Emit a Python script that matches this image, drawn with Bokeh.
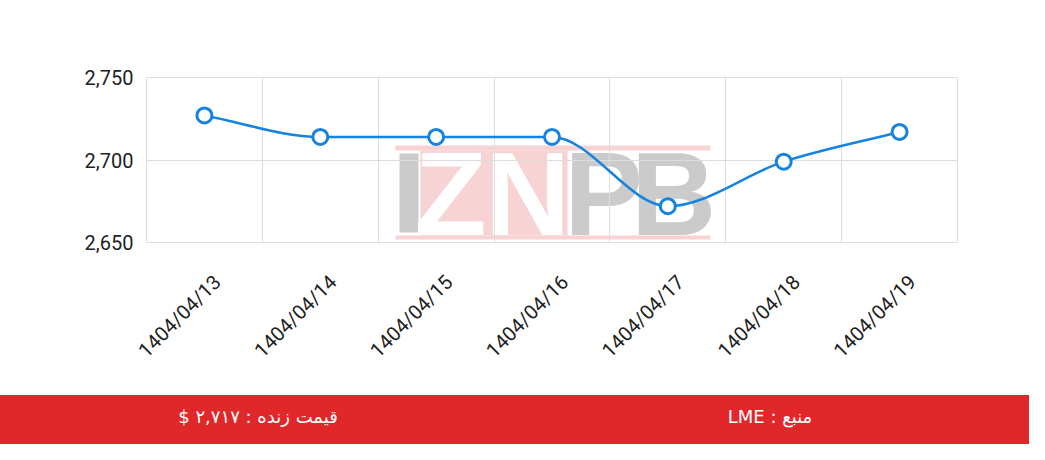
import math
import numpy as np
from bokeh.plotting import figure
from bokeh.models import Range1d, FixedTicker, NumeralTickFormatter, ColumnDataSource, Div
from bokeh.layouts import column
from bokeh.embed import file_html
from bokeh.resources import INLINE
from bokeh.core.properties import value

# ---------------- data ----------------
dates = ["1404/04/13", "1404/04/14", "1404/04/15", "1404/04/16",
         "1404/04/17", "1404/04/18", "1404/04/19"]
prices = [2727, 2714, 2714, 2714, 2672, 2699, 2717]
y_ticks = [2650, 2700, 2750]
y_min, y_max = 2650, 2750
source_name = "LME"
live_label = "قیمت زنده"
source_label = "منبع"

BLUE = "#1683df"
RED = "#e0282a"
GRID = "#dddddd"
TXT = "#222222"

n = len(dates)
xs = list(range(n))


def monotone_tangents(x, y):
    """Chart.js style monotone cubic tangents."""
    k = len(y)
    d = [(y[i + 1] - y[i]) / (x[i + 1] - x[i]) for i in range(k - 1)]
    m = [0.0] * k
    for i in range(k):
        if i == 0:
            m[i] = d[0]
        elif i == k - 1:
            m[i] = d[-1]
        elif np.sign(d[i - 1]) != np.sign(d[i]):
            m[i] = 0.0
        else:
            m[i] = (d[i - 1] + d[i]) / 2
    for i in range(k - 1):
        if d[i] == 0:
            m[i] = m[i + 1] = 0.0
            continue
        a = m[i] / d[i]
        b = m[i + 1] / d[i]
        s = a * a + b * b
        if s > 9:
            t = 3 / math.sqrt(s)
            m[i] = a * t * d[i]
            m[i + 1] = b * t * d[i]
    return m


m = monotone_tangents(xs, prices)
seg = dict(x0=[], y0=[], x1=[], y1=[], cx0=[], cy0=[], cx1=[], cy1=[])
for i in range(n - 1):
    h = (xs[i + 1] - xs[i]) / 3
    seg["x0"].append(xs[i]); seg["y0"].append(prices[i])
    seg["x1"].append(xs[i + 1]); seg["y1"].append(prices[i + 1])
    seg["cx0"].append(xs[i] + h); seg["cy0"].append(prices[i] + m[i] * h)
    seg["cx1"].append(xs[i + 1] - h); seg["cy1"].append(prices[i + 1] - m[i + 1] * h)

# ---------------- main chart ----------------
FIG_W = 1029
MAIN_H = 395
BL, BR, BT, BB = 146, 72, 77, 153

p = figure(width=FIG_W, height=MAIN_H, output_backend="svg", toolbar_location=None,
           x_range=Range1d(-0.5, n - 0.5), y_range=Range1d(y_min, y_max),
           min_border_left=BL, min_border_right=BR, min_border_top=BT, min_border_bottom=BB)
p.background_fill_color = "white"
p.border_fill_color = "white"
p.outline_line_color = GRID

# helpers: convert page-pixel layout offsets into data units (for watermark)
frame_w = FIG_W - BL - BR
frame_h = MAIN_H - BT - BB
def wx(px):
    return -0.5 + (px - (BL + 8)) * n / frame_w
def wy(py):
    return y_max - (py - (BT + 8)) * (y_max - y_min) / frame_h

PINK = "#f8d3d3"
GRAY = "#cbcbcb"
p.quad(left=[wx(403), wx(403), wx(428)], right=[wx(718), wx(718), wx(575)],
       top=[wy(153), wy(243), wy(158)], bottom=[wy(158), wy(247), wy(243)],
       fill_color=PINK, line_color=None, level="image")
p.quad(left=[wx(407)], right=[wx(426)], top=[wy(161)], bottom=[wy(240)],
       fill_color=GRAY, line_color=None, level="image")
p.text(x=[wx(458), wx(535)], y=[wy(201.5)] * 2, text=["Z", "N"],
       text_font=value("Liberation Sans"), text_font_style="bold",
       text_font_size=value("118px"), text_align="center", text_baseline="middle",
       text_color="white", level="image")
p.text(x=[wx(611), wx(681)], y=[wy(201.5)] * 2, text=["P", "B"],
       text_font=value("Liberation Sans"), text_font_style="bold",
       text_font_size=value("118px"), text_align="center", text_baseline="middle",
       text_color=GRAY, level="image")

p.bezier(source=ColumnDataSource(seg), x0="x0", y0="y0", x1="x1", y1="y1",
         cx0="cx0", cy0="cy0", cx1="cx1", cy1="cy1", line_color=BLUE, line_width=2.5)
p.scatter(xs, prices, size=15, fill_color="white", line_color=BLUE, line_width=3)

# axes (label anchors nudged right of the category centre, like the reference)
label_pos = [x + 0.11 for x in xs]
p.xaxis.ticker = FixedTicker(ticks=label_pos)
p.xaxis.major_label_overrides = {x: d for x, d in zip(label_pos, dates)}
p.xaxis.major_label_orientation = math.pi / 4
p.yaxis.ticker = FixedTicker(ticks=y_ticks)
p.yaxis.formatter = NumeralTickFormatter(format="0,0")
for ax in (p.xaxis, p.yaxis):
    ax.axis_line_color = None
    ax.major_tick_line_color = None
    ax.minor_tick_line_color = None
    ax.major_tick_out = 0
    ax.major_tick_in = 0
    ax.major_label_text_font = "Roboto"
    ax.major_label_text_font_size = "20px"
    ax.major_label_text_color = TXT
p.yaxis.major_label_standoff = 13
p.xaxis.major_label_standoff = 36

p.xgrid.ticker = FixedTicker(ticks=[i + 0.5 for i in range(n - 1)])
p.ygrid.ticker = FixedTicker(ticks=y_ticks)
p.grid.grid_line_color = GRID

# ---------------- footer (red band) ----------------
FOOT_H = 49
fa = str.maketrans("0123456789", "۰۱۲۳۴۵۶۷۸۹")
live_text = live_label + " : " + f"{prices[-1]:,}".translate(fa) + " $"
src_text = source_label + " : " + source_name

span = ("position:absolute;top:{top}px;left:{x}px;transform:translateX(-50%);"
        "white-space:nowrap;direction:rtl;line-height:1;")
html = (
    f'<div style="position:relative;width:{FIG_W}px;height:{FOOT_H}px;background:{RED};'
    f'font-family:\'DejaVu Sans\';font-size:18px;color:white;">'
    f'<span style="{span.format(top=13, x=258)}">{live_text}</span>'
    f'<span style="{span.format(top=13, x=770)}">{src_text}</span>'
    f'</div>'
)
footer = Div(text=html, width=FIG_W, height=FOOT_H, margin=0)

layout = column(p, footer, spacing=0)
open("out.html", "w").write(file_html(layout, INLINE))
